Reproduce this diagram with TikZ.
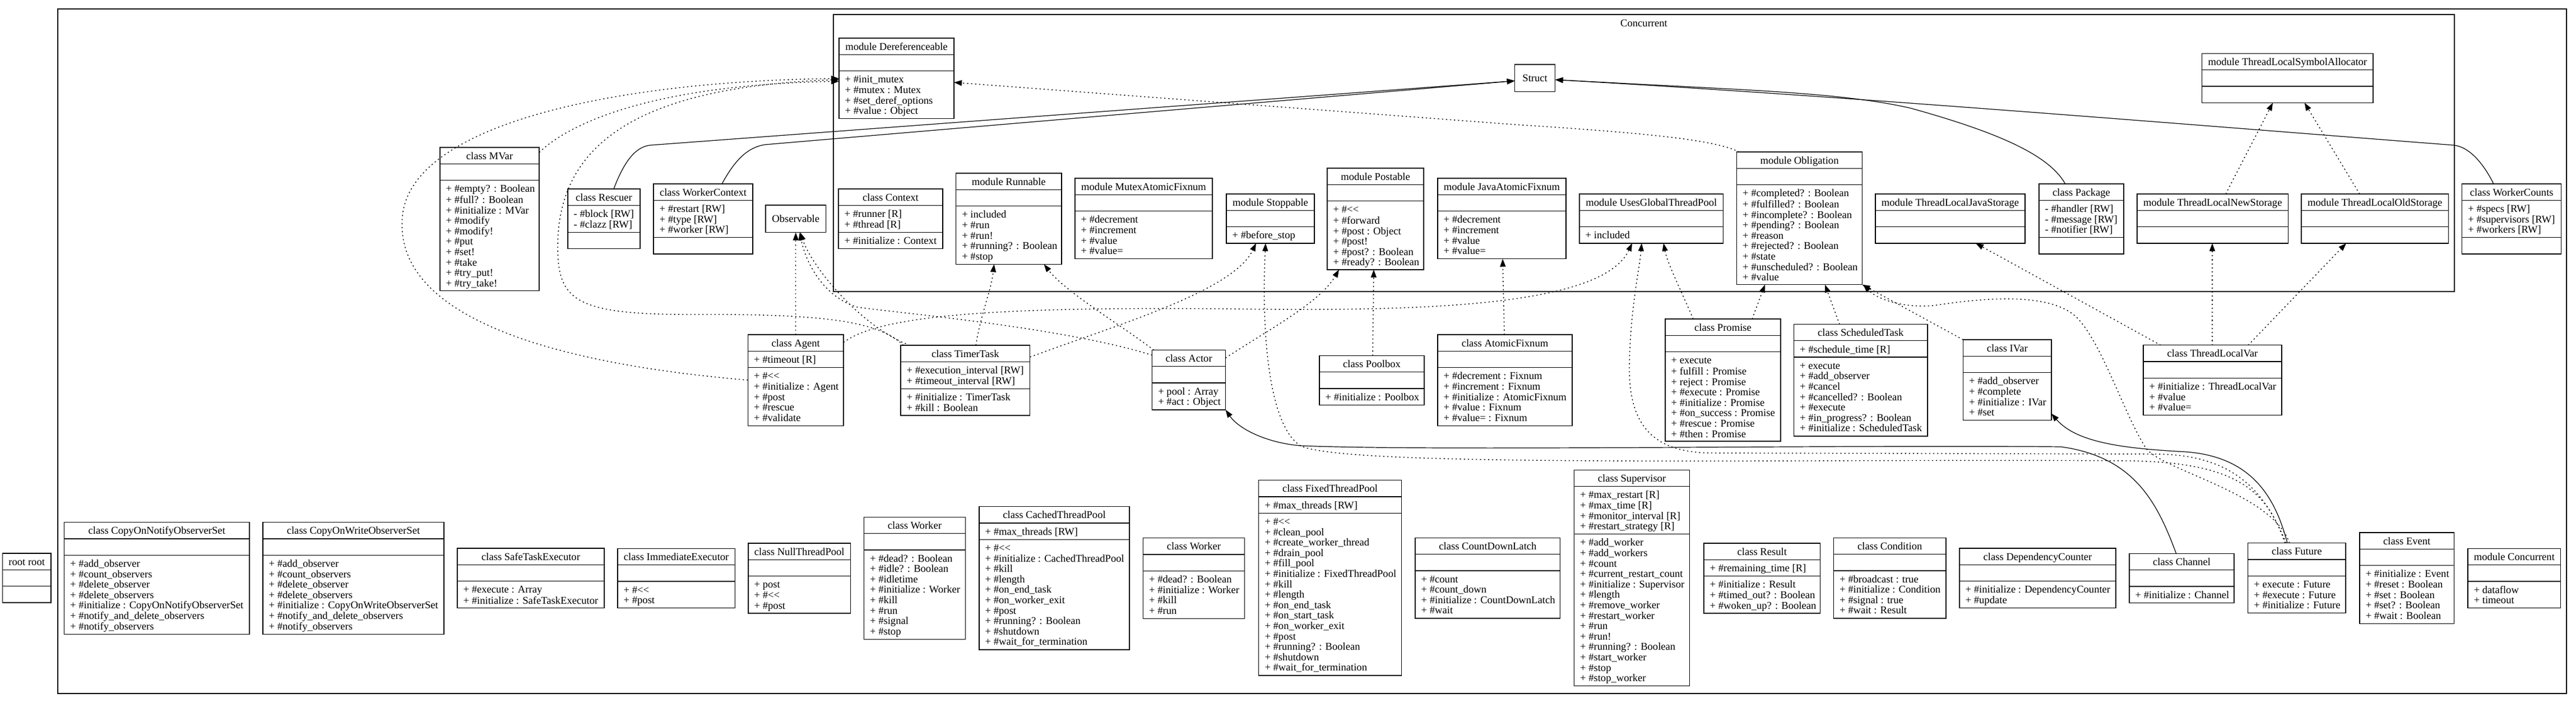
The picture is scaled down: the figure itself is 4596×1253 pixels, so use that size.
\documentclass[tikz,border=0pt]{standalone}
\usepackage{fontspec}
\setmainfont{Liberation Serif}
\usetikzlibrary{arrows.meta,calc}
\newcommand{\umlfont}{\fontsize{18.6}{18.6}\selectfont}
\newcommand{\dlt}{<\kern0pt<}
\tikzset{
  umlframe/.style={draw, line width=1.3pt, inner sep=0pt, outer sep=0pt},
  umlline/.style={line width=1.3pt},
  umltext/.style={inner sep=0pt, font=\umlfont},
  incl/.style={line width=1.4pt, dash pattern=on 2.2pt off 5pt, -{Triangle[length=14pt,width=10pt]}},
  inh/.style={line width=1.2pt, -{Triangle[length=14pt,width=10pt]}},
  cluster/.style={draw, line width=1.3pt},
}
% #1 name, #2 x, #3 y, #4 width, #5 title, #6 n attrs, #7 attrs, #8 n methods, #9 methods
\newcommand{\umlbox}[9]{%
  \pgfmathsetmacro{\umlhA}{#6==0 ? 29.3 : 10.7+#6*18.6}%
  \pgfmathsetmacro{\umlhM}{#8==0 ? 29.3 : 10.7+#8*18.6}%
  \pgfmathsetmacro{\umlhT}{29.3+\umlhA+\umlhM}%
  \node[umlframe, minimum width=#4pt, minimum height=\umlhT pt, anchor=north west] (#1) at (#2,#3) {};
  \draw[umlline] (#2,#3+29.3) -- ++(#4,0);
  \draw[umlline] (#2,#3+29.3+\umlhA) -- ++(#4,0);
  \node[umltext, anchor=north] at (#2+#4/2,#3+7.8) {\strut #5};
  \ifnum#6>0 \node[umltext, anchor=north west, align=left] at (#2+10.5,#3+29.3+8) {\strut #7\strut};\fi
  \ifnum#8>0 \node[umltext, anchor=north west, align=left] at (#2+10.5,#3+29.3+\umlhA+8) {\strut #9\strut};\fi
}
\begin{document}
\begin{tikzpicture}[x=1pt,y=-1pt]
\useasboundingbox (0,0) rectangle (4596,1253);
% clusters
\draw[cluster] (103,16) rectangle (4579,1237);
\draw[cluster] (1487,26) rectangle (4379,520);
\node[umltext, anchor=base] (conclabel) at (2933,47.3) {Concurrent};

% ---------- upper area ----------
\umlbox{mvar}{785}{263}{177}{class MVar}{0}{}{10}{+ \#empty? : Boolean\\+ \#full? : Boolean\\+ \#initialize : MVar\\+ \#modify\\+ \#modify!\\+ \#put\\+ \#set!\\+ \#take\\+ \#try\_put!\\+ \#try\_take!}
\umlbox{rescuer}{1013}{337}{129}{class Rescuer}{2}{- \#block [RW]\\- \#clazz [RW]}{0}{}
\umlbox{workerctx}{1166}{328}{177}{class WorkerContext}{3}{+ \#restart [RW]\\+ \#type [RW]\\+ \#worker [RW]}{0}{}
\node[umlframe, font=\umlfont, minimum width=107.5pt, minimum height=48.6pt, anchor=north west] (observable) at (1366,366) {Observable};
\umlbox{agent}{1334.5}{597}{170.5}{class Agent}{1}{+ \#timeout [R]}{5}{+ \#\dlt\\+ \#initialize : Agent\\+ \#post\\+ \#rescue\\+ \#validate}
\umlbox{deref}{1497}{68}{205}{module Dereferenceable}{0}{}{4}{+ \#init\_mutex\\+ \#mutex : Mutex\\+ \#set\_deref\_options\\+ \#value : Object}
\umlbox{context}{1496}{337}{186}{class Context}{2}{+ \#runner [R]\\+ \#thread [R]}{1}{+ \#initialize : Context}
\umlbox{runnable}{1705.6}{309}{188.4}{module Runnable}{0}{}{5}{+ included\\+ \#run\\+ \#run!\\+ \#running? : Boolean\\+ \#stop}
\umlbox{mutexaf}{1918}{318}{245}{module MutexAtomicFixnum}{0}{}{4}{+ \#decrement\\+ \#increment\\+ \#value\\+ \#value=}
\umlbox{stoppable}{2188}{346}{157}{module Stoppable}{0}{}{1}{+ \#before\_stop}
\umlbox{postable}{2368}{300}{172}{module Postable}{0}{}{6}{+ \#\dlt\\+ \#forward\\+ \#post : Object\\+ \#post!\\+ \#post? : Boolean\\+ \#ready? : Boolean}
\umlbox{javaaf}{2565}{318}{229}{module JavaAtomicFixnum}{0}{}{4}{+ \#decrement\\+ \#increment\\+ \#value\\+ \#value=}
\umlbox{ugtp}{2818}{346}{256.5}{module UsesGlobalThreadPool}{0}{}{1}{+ included}
\umlbox{obligation}{3098.5}{271}{224}{module Obligation}{0}{}{9}{+ \#completed? : Boolean\\+ \#fulfilled? : Boolean\\+ \#incomplete? : Boolean\\+ \#pending? : Boolean\\+ \#reason\\+ \#rejected? : Boolean\\+ \#state\\+ \#unscheduled? : Boolean\\+ \#value}
\umlbox{tljs}{3346}{346}{267}{module ThreadLocalJavaStorage}{0}{}{0}{}
\umlbox{package}{3638}{328}{151}{class Package}{3}{- \#handler [RW]\\- \#message [RW]\\- \#notifier [RW]}{0}{}
\umlbox{tlsa}{3928.6}{95.5}{305.4}{module ThreadLocalSymbolAllocator}{0}{}{0}{}
\umlbox{tlns}{3813}{346}{269.5}{module ThreadLocalNewStorage}{0}{}{0}{}
\umlbox{tlos}{4106}{346}{262.5}{module ThreadLocalOldStorage}{0}{}{0}{}
\umlbox{workercounts}{4392.7}{328}{177}{class WorkerCounts}{3}{+ \#specs [RW]\\+ \#supervisors [RW]\\+ \#workers [RW]}{0}{}
\node[umlframe, font=\umlfont, minimum width=72pt, minimum height=48.5pt, anchor=north west] (struct) at (2702.6,115) {Struct};
\umlbox{timertask}{1607}{616}{230.6}{class TimerTask}{2}{+ \#execution\_interval [RW]\\+ \#timeout\_interval [RW]}{2}{+ \#initialize : TimerTask\\+ \#kill : Boolean}
\umlbox{actor}{2055.6}{624.5}{131}{class Actor}{0}{}{2}{+ pool : Array\\+ \#act : Object}
\umlbox{poolbox}{2354}{634.5}{187}{class Poolbox}{0}{}{1}{+ \#initialize : Poolbox}
\umlbox{atomicfix}{2565}{597}{240}{class AtomicFixnum}{0}{}{5}{+ \#decrement : Fixnum\\+ \#increment : Fixnum\\+ \#initialize : AtomicFixnum\\+ \#value : Fixnum\\+ \#value= : Fixnum}
\umlbox{promise}{2971}{569}{206}{class Promise}{0}{}{8}{+ execute\\+ fulfill : Promise\\+ reject : Promise\\+ \#execute : Promise\\+ \#initialize : Promise\\+ \#on\_success : Promise\\+ \#rescue : Promise\\+ \#then : Promise}
\umlbox{scheduled}{3200.5}{578.5}{238.5}{class ScheduledTask}{1}{+ \#schedule\_time [R]}{7}{+ execute\\+ \#add\_observer\\+ \#cancel\\+ \#cancelled? : Boolean\\+ \#execute\\+ \#in\_progress? : Boolean\\+ \#initialize : ScheduledTask}
\umlbox{ivar}{3502.5}{606}{157.5}{class IVar}{0}{}{4}{+ \#add\_observer\\+ \#complete\\+ \#initialize : IVar\\+ \#set}
\umlbox{tlvar}{3824}{615.7}{247}{class ThreadLocalVar}{0}{}{3}{+ \#initialize : ThreadLocalVar\\+ \#value\\+ \#value=}

% ---------- bottom row ----------
\umlbox{root}{4.4}{987}{86.6}{root root}{0}{}{0}{}
\umlbox{conotify}{114.5}{931.7}{330.5}{class CopyOnNotifyObserverSet}{0}{}{7}{+ \#add\_observer\\+ \#count\_observers\\+ \#delete\_observer\\+ \#delete\_observers\\+ \#initialize : CopyOnNotifyObserverSet\\+ \#notify\_and\_delete\_observers\\+ \#notify\_observers}
\umlbox{cowrite}{469}{931.7}{323}{class CopyOnWriteObserverSet}{0}{}{7}{+ \#add\_observer\\+ \#count\_observers\\+ \#delete\_observer\\+ \#delete\_observers\\+ \#initialize : CopyOnWriteObserverSet\\+ \#notify\_and\_delete\_observers\\+ \#notify\_observers}
\umlbox{safetask}{816}{978}{262}{class SafeTaskExecutor}{0}{}{2}{+ \#execute : Array\\+ \#initialize : SafeTaskExecutor}
\umlbox{immediate}{1102}{978.3}{209.3}{class ImmediateExecutor}{0}{}{2}{+ \#\dlt\\+ \#post}
\umlbox{nullpool}{1335}{969}{182.6}{class NullThreadPool}{0}{}{3}{+ post\\+ \#\dlt\\+ \#post}
\umlbox{workerA}{1541.4}{922.3}{181}{class Worker}{0}{}{8}{+ \#dead? : Boolean\\+ \#idle? : Boolean\\+ \#idletime\\+ \#initialize : Worker\\+ \#kill\\+ \#run\\+ \#signal\\+ \#stop}
\umlbox{cached}{1747}{903.7}{268}{class CachedThreadPool}{1}{+ \#max\_threads [RW]}{10}{+ \#\dlt\\+ \#initialize : CachedThreadPool\\+ \#kill\\+ \#length\\+ \#on\_end\_task\\+ \#on\_worker\_exit\\+ \#post\\+ \#running? : Boolean\\+ \#shutdown\\+ \#wait\_for\_termination}
\umlbox{workerB}{2039.5}{959.7}{181}{class Worker}{0}{}{4}{+ \#dead? : Boolean\\+ \#initialize : Worker\\+ \#kill\\+ \#run}
\umlbox{fixed}{2245.8}{856.7}{254.6}{class FixedThreadPool}{1}{+ \#max\_threads [RW]}{15}{+ \#\dlt\\+ \#clean\_pool\\+ \#create\_worker\_thread\\+ \#drain\_pool\\+ \#fill\_pool\\+ \#initialize : FixedThreadPool\\+ \#kill\\+ \#length\\+ \#on\_end\_task\\+ \#on\_start\_task\\+ \#on\_worker\_exit\\+ \#post\\+ \#running? : Boolean\\+ \#shutdown\\+ \#wait\_for\_termination}
\umlbox{countdown}{2525}{959.3}{258.8}{class CountDownLatch}{0}{}{4}{+ \#count\\+ \#count\_down\\+ \#initialize : CountDownLatch\\+ \#wait}
\umlbox{supervisor}{2808.4}{838.3}{206.2}{class Supervisor}{4}{+ \#max\_restart [R]\\+ \#max\_time [R]\\+ \#monitor\_interval [R]\\+ \#restart\_strategy [R]}{14}{+ \#add\_worker\\+ \#add\_workers\\+ \#count\\+ \#current\_restart\_count\\+ \#initialize : Supervisor\\+ \#length\\+ \#remove\_worker\\+ \#restart\_worker\\+ \#run\\+ \#run!\\+ \#running? : Boolean\\+ \#start\_worker\\+ \#stop\\+ \#stop\_worker}
\umlbox{result}{3040}{969}{207.6}{class Result}{1}{+ \#remaining\_time [R]}{3}{+ \#initialize : Result\\+ \#timed\_out? : Boolean\\+ \#woken\_up? : Boolean}
\umlbox{condition}{3271.4}{959.3}{200.6}{class Condition}{0}{}{4}{+ \#broadcast : true\\+ \#initialize : Condition\\+ \#signal : true\\+ \#wait : Result}
\umlbox{depcounter}{3496}{978}{279}{class DependencyCounter}{0}{}{2}{+ \#initialize : DependencyCounter\\+ \#update}
\umlbox{channel}{3799}{987.3}{187}{class Channel}{0}{}{1}{+ \#initialize : Channel}
\umlbox{future}{4010.7}{968.7}{174.3}{class Future}{0}{}{3}{+ execute : Future\\+ \#execute : Future\\+ \#initialize : Future}
\umlbox{event}{4210}{950}{168.5}{class Event}{0}{}{5}{+ \#initialize : Event\\+ \#reset : Boolean\\+ \#set : Boolean\\+ \#set? : Boolean\\+ \#wait : Boolean}
\umlbox{modconc}{4403}{978.3}{165.6}{module Concurrent}{0}{}{2}{+ dataflow\\+ timeout}

% ---------- inheritance (solid) ----------
\draw[inh] ($(rescuer.north west)+(82,0)$) .. controls (1112,292) and (1132,262) .. (1160,259) -- ($(struct.west)+(0,5)$);
\draw[inh] ($(workerctx.north west)+(122,0)$) .. controls (1310,288) and (1332,263) .. (1365,258) -- ($(struct.west)+(0,5)$);
\draw[inh] ($(package.north west)+(46.7,0)$) .. controls (3655,275) and (3560,235) .. (3409,193) .. controls (3300,168) and (3150,162) .. (2950,151.5) -- ($(struct.east)+(0,3)$);
\draw[inh] ($(workercounts.north west)+(56.3,0)$) .. controls (4430,290) and (4405,262) .. (4378,259) .. controls (3900,222) and (3300,172) .. ($(struct.east)+(0,3)$);
\draw[inh] ($(channel.north west)+(83.6,0)$) .. controls (3850,900) and (3810,815) .. (3677,797) .. controls (3300,793) and (2550,805) .. (2320,795) .. controls (2260,790) and (2210,765) .. (actor.south east);
\draw[inh] ($(future.north west)+(70.3,0)$) .. controls (4060,890) and (4020,815) .. (3900,806) .. controls (3790,800) and (3705,790) .. ($(ivar.south east)+(0,-12)$);

% ---------- includes (dotted) ----------
\draw[incl] ($(mvar.north east)+(0,9)$) .. controls (1010,225) and (1150,152) .. ($(deref.north west)+(0,77)$);
\draw[incl] ($(agent.north west)+(0,81)$) .. controls (1000,650) and (700,570) .. (718,385) .. controls (735,220) and (1100,145) .. ($(deref.north west)+(0,72)$);
\draw[incl] ($(timertask.north west)+(5,0)$) .. controls (1570,575) and (1480,560) .. (1250,561) .. controls (1030,562) and (995,540) .. (995,440) .. controls (995,250) and (1150,155) .. ($(deref.north west)+(0,74)$);
\draw[incl] ($(obligation.north west)+(4.5,0)$) .. controls (3060,250) and (2950,238) .. (2700,222) -- ($(deref.north east)+(0,79)$);
\draw[incl] (agent.north) -- (observable.south);
\draw[incl] ($(timertask.north west)+(16,0)$) .. controls (1540,585) and (1450,480) .. ($(observable.south)+(8,0)$);
\draw[incl] ($(actor.north west)+(0,9)$) .. controls (1900,585) and (1620,560) .. (1530,548) .. controls (1470,530) and (1438,470) .. ($(observable.south)+(7,0)$);
\draw[incl] ($(agent.north east)+(0,14)$) .. controls (1570,560) and (1800,547) .. (2200,551) .. controls (2550,556) and (2860,545) .. ($(ugtp.south west)+(94,0)$);
\draw[incl] ($(timertask.north west)+(134,0)$) .. controls (1750,560) and (1768,520) .. ($(runnable.south west)+(68,0)$);
\draw[incl] ($(actor.north west)+(3,0)$) .. controls (2000,580) and (1900,520) .. ($(runnable.south west)+(157,0)$);
\draw[incl] ($(timertask.north east)+(0,21)$) .. controls (1990,580) and (2200,520) .. ($(stoppable.south west)+(53,0)$);
\draw[incl] ($(actor.north east)+(0,14)$) .. controls (2260,590) and (2355,540) .. ($(postable.south west)+(21,0)$);
\draw[incl] ($(poolbox.north west)+(95,0)$) -- ($(postable.south west)+(83,0)$);
\draw[incl] ($(atomicfix.north west)+(119,0)$) -- ($(javaaf.south west)+(116,0)$);
\draw[incl] ($(future.north west)+(66,0)$) .. controls (4045,875) and (3990,825) .. (3800,822) .. controls (3200,818) and (2400,835) .. (2320,795) .. controls (2265,760) and (2250,600) .. ($(stoppable.south west)+(70,0)$);
\draw[incl] ($(future.north west)+(68,0)$) .. controls (4040,875) and (3985,812) .. (3850,810) -- (3050,808) .. controls (2950,806) and (2905,760) .. (2907,650) .. controls (2909,550) and (2925,480) .. ($(ugtp.south west)+(111,0)$);
\draw[incl] ($(future.north west)+(74,0)$) .. controls (4055,880) and (3860,840) .. (3829,800) .. controls (3790,740) and (3750,610) .. (3704,565) .. controls (3660,525) and (3560,528) .. (3450,545) .. controls (3400,550) and (3350,535) .. ($(obligation.south east)+(2,0)$);
\draw[incl] ($(promise.north west)+(50,0)$) .. controls (3000,520) and (2975,470) .. ($(ugtp.south west)+(150,0)$);
\draw[incl] ($(promise.north west)+(155,0)$) -- ($(obligation.south west)+(50.5,0)$);
\draw[incl] ($(scheduled.north west)+(81.5,0)$) -- ($(obligation.south west)+(157.5,0)$);
\draw[incl] (ivar.north west) -- (obligation.south east);
\draw[incl] ($(tlvar.north west)+(31,0)$) -- ($(tljs.south west)+(179,0)$);
\draw[incl] ($(tlvar.north west)+(123,0)$) -- ($(tlns.south west)+(134,0)$);
\draw[incl] ($(tlvar.north west)+(187,0)$) -- ($(tlos.south west)+(80,0)$);
\draw[incl] ($(tlns.north west)+(158,0)$) -- ($(tlsa.south west)+(126.4,0)$);
\draw[incl] ($(tlos.north west)+(104,0)$) -- ($(tlsa.south west)+(183,0)$);
\end{tikzpicture}
\end{document}
